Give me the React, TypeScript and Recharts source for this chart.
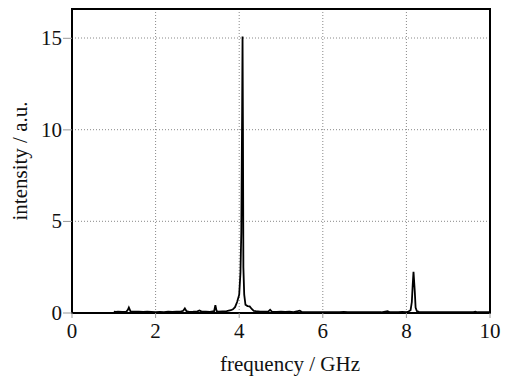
import React from "react";
import { LineChart, Line, XAxis, YAxis, CartesianGrid, ReferenceArea } from "recharts";

const frequency = [
	1.0, 1.05, 1.1, 1.2, 1.3, 1.33, 1.36, 1.4, 1.5, 1.6, 1.7, 1.8, 1.9, 2.0, 2.1, 2.2, 2.3, 2.4, 2.5, 2.6,
	2.66, 2.7, 2.74, 2.8, 2.9, 3.0, 3.05, 3.1, 3.2, 3.3, 3.4, 3.43, 3.46, 3.5, 3.6, 3.7, 3.8, 3.85, 3.9, 3.95,
	4.0, 4.03, 4.05, 4.07, 4.08, 4.09, 4.1, 4.12, 4.15, 4.2, 4.25, 4.3, 4.35, 4.4, 4.5, 4.6, 4.7, 4.74, 4.78, 4.9,
	5.0, 5.1, 5.2, 5.3, 5.4, 5.45, 5.5, 5.6, 5.8, 6.0, 6.2, 6.4, 6.5, 6.6, 6.8, 7.0, 7.2, 7.4, 7.55, 7.6,
	7.8, 7.9, 8.0, 8.05, 8.1, 8.13, 8.15, 8.17, 8.2, 8.22, 8.25, 8.3, 8.4, 8.6, 8.8, 9.0, 9.2, 9.4, 9.6, 9.65,
	9.7, 9.8, 10.0,
];
const intensity = [
	0.08, 0.06, 0.07, 0.06, 0.08, 0.15, 0.3, 0.09, 0.07, 0.08, 0.06, 0.07, 0.06, 0.05, 0.06, 0.05, 0.07, 0.06, 0.08, 0.07,
	0.12, 0.25, 0.1, 0.06, 0.07, 0.09, 0.14, 0.08, 0.07, 0.06, 0.1, 0.42, 0.1, 0.07, 0.09, 0.1, 0.15, 0.2, 0.32, 0.6,
	1.0, 2.2, 4.4, 11.0, 15.1, 10.0, 2.5, 1.0, 0.45, 0.38, 0.36, 0.22, 0.12, 0.1, 0.08, 0.07, 0.09, 0.18, 0.08, 0.06,
	0.07, 0.06, 0.07, 0.05, 0.1, 0.13, 0.06, 0.05, 0.04, 0.05, 0.04, 0.05, 0.06, 0.04, 0.05, 0.04, 0.05, 0.04, 0.1, 0.04,
	0.05, 0.06, 0.05, 0.08, 0.15, 0.6, 1.5, 2.25, 1.2, 0.3, 0.1, 0.06, 0.05, 0.04, 0.05, 0.04, 0.05, 0.04, 0.05, 0.07,
	0.04, 0.04, 0.04,
];
const xTicks = [0, 2, 4, 6, 8, 10];
const yTicks = [0, 5, 10, 15];

const data = frequency.map((f, i) => ({ f, v: intensity[i] }));

const serif = "'Times New Roman', 'Liberation Serif', serif";
const font = { fontFamily: serif, fontSize: 21, fill: "#111" };

const XTick = (props: any) => {
	const { x, y, payload } = props;
	return (
		<text x={x} y={y + 20} textAnchor="middle" style={{ fontFamily: serif, fontSize: 21 }} fill="#111">
			{payload.value}
		</text>
	);
};

const YTick = (props: any) => {
	const { x, y, payload } = props;
	return (
		<text x={x} y={y + 7} textAnchor="end" style={{ fontFamily: serif, fontSize: 21 }} fill="#111">
			{payload.value}
		</text>
	);
};

export default function App() {
	return (
		<div style={{ position: "absolute", left: 0, top: 0, fontFamily: serif }}>
			<LineChart width={513} height={376} data={data} margin={{ top: 9, right: 23, left: 0, bottom: 23 }}>
				<CartesianGrid stroke="#888" strokeDasharray="1 2" verticalPoints={[155.6, 239.2, 322.8, 406.4]} horizontalPoints={[221.3, 129.7, 38]} />
				<XAxis
					type="number"
					dataKey="f"
					domain={[0, 10]}
					ticks={xTicks}
					height={40}
					tickSize={5}
					tickMargin={0}
					tick={<XTick />}
					stroke="#999"
					axisLine={false}
					label={{ value: "frequency / GHz", position: "insideBottom", offset: -18, dx: 9, style: font }}
				/>
				<YAxis
					type="number"
					domain={[0, 16.6]}
					ticks={yTicks}
					width={72}
					tickSize={9}
					tickMargin={1}
					tick={<YTick />}
					stroke="#999"
					axisLine={false}
					label={{ value: "intensity / a.u.", angle: -90, position: "insideLeft", offset: 20, style: { ...font, textAnchor: "middle" } }}
				/>
				<ReferenceArea x1={0} x2={10} y1={0} y2={16.6} fill="none" stroke="#000" strokeWidth={2} ifOverflow="visible" />
				<Line type="linear" dataKey="v" stroke="#000" strokeWidth={1.8} dot={false} isAnimationActive={false} />
			</LineChart>
		</div>
	);
}
